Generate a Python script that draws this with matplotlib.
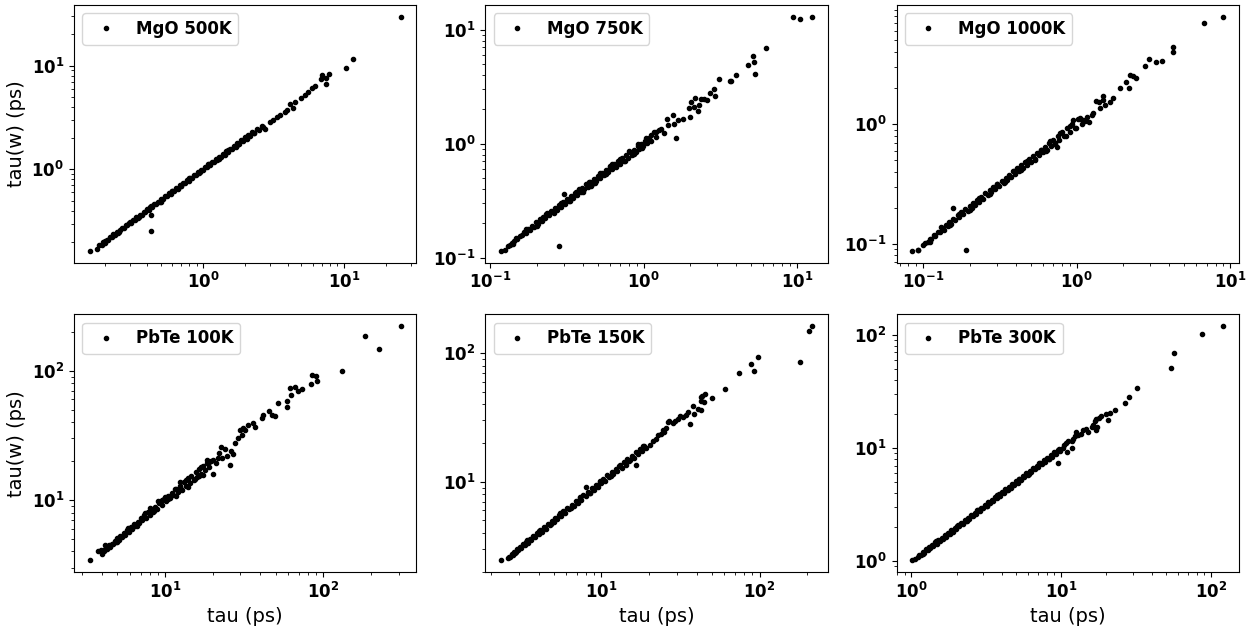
import matplotlib
matplotlib.use('Agg')
import matplotlib.pyplot as plt

# MgO 500K
mgo500_tau = [0.156, 0.176, 0.183, 0.19, 0.195, 0.2, 0.206, 0.212, 0.218, 0.224,
              0.23, 0.237, 0.244, 0.251, 0.258, 0.266, 0.274, 0.282, 0.29, 0.299,
              0.308, 0.317, 0.326, 0.336, 0.346, 0.356, 0.367, 0.378, 0.389, 0.4,
              0.412, 0.424, 0.426, 0.426, 0.437, 0.45, 0.463, 0.477, 0.491, 0.506,
              0.521, 0.537, 0.553, 0.57, 0.587, 0.604, 0.622, 0.641, 0.66, 0.68,
              0.7, 0.721, 0.743, 0.765, 0.788, 0.812, 0.836, 0.861, 0.887, 0.914,
              0.941, 0.969, 0.998, 1.03, 1.06, 1.09, 1.12, 1.16, 1.19, 1.23,
              1.26, 1.3, 1.34, 1.38, 1.42, 1.46, 1.5, 1.55, 1.6, 1.65,
              1.7, 1.75, 1.8, 1.86, 1.92, 1.98, 2.04, 2.1, 2.17, 2.24,
              2.31, 2.4, 2.5, 2.6, 2.68, 2.75, 2.99, 3.15, 3.35, 3.52,
              3.82, 3.95, 4.14, 4.37, 4.49, 4.93, 5.3, 5.58, 5.9, 6.2,
              6.87, 6.95, 7.45, 7.45, 7.87, 10.3, 11.6, 25.4,
              0.2, 0.25, 0.3, 0.35, 0.42, 0.5, 0.6, 0.7, 0.8, 0.95,
              1.1, 1.3, 1.5, 1.75, 2.0, 2.3]
mgo500_tauw = [0.164, 0.169, 0.186, 0.188, 0.199, 0.197, 0.21, 0.209, 0.224, 0.222,
               0.236, 0.233, 0.25, 0.247, 0.262, 0.27, 0.272, 0.29, 0.288, 0.306,
               0.305, 0.325, 0.324, 0.345, 0.343, 0.366, 0.362, 0.39, 0.385, 0.415,
               0.41, 0.44, 0.362, 0.256, 0.436, 0.466, 0.46, 0.49, 0.487, 0.523,
               0.517, 0.551, 0.548, 0.586, 0.58, 0.62, 0.616, 0.66, 0.652, 0.7,
               0.692, 0.74, 0.735, 0.785, 0.778, 0.832, 0.826, 0.88, 0.876, 0.935,
               0.93, 0.99, 0.986, 1.05, 1.045, 1.115, 1.105, 1.18, 1.17, 1.25,
               1.235, 1.33, 1.31, 1.41, 1.39, 1.49, 1.47, 1.58, 1.56, 1.68,
               1.66, 1.78, 1.75, 1.9, 1.87, 2.02, 1.98, 2.14, 2.1, 2.28,
               2.24, 2.43, 2.42, 2.62, 2.58, 2.45, 2.88, 2.99, 3.2, 3.34,
               3.59, 3.75, 4.24, 3.87, 4.49, 4.84, 5.2, 5.53, 6.04, 6.4,
               7.43, 8.1, 7.55, 6.69, 8.36, 9.55, 11.5, 29.6,
               0.206, 0.243, 0.31, 0.345, 0.435, 0.49, 0.62, 0.685, 0.825, 0.935,
               1.135, 1.27, 1.54, 1.72, 2.05, 2.25]

# MgO 750K
mgo750_tau = [0.117, 0.125, 0.13, 0.134, 0.138, 0.142, 0.146, 0.15, 0.155, 0.16,
              0.165, 0.17, 0.175, 0.18, 0.186, 0.192, 0.198, 0.204, 0.21, 0.216,
              0.222, 0.228, 0.235, 0.242, 0.249, 0.256, 0.264, 0.272, 0.28, 0.282,
              0.288, 0.297, 0.3, 0.306, 0.315, 0.324, 0.334, 0.344, 0.354, 0.365,
              0.376, 0.387, 0.398, 0.41, 0.422, 0.435, 0.448, 0.461, 0.475, 0.489,
              0.504, 0.519, 0.535, 0.551, 0.567, 0.584, 0.602, 0.62, 0.638, 0.657,
              0.677, 0.697, 0.718, 0.74, 0.762, 0.785, 0.808, 0.832, 0.857, 0.883,
              0.91, 0.937, 0.965, 0.994, 1.02, 1.05, 1.08, 1.11, 1.11, 1.16,
              1.2, 1.2, 1.25, 1.3, 1.35, 1.41, 1.43, 1.54, 1.58, 1.62,
              1.66, 1.79, 1.98, 2.0, 2.03, 2.13, 2.15, 2.24, 2.28, 2.36,
              2.48, 2.6, 2.71, 2.85, 2.89, 3.07, 3.66, 3.7, 3.98, 4.75,
              5.12, 5.25, 5.33, 6.25, 9.42, 10.5, 12.5,
              0.14, 0.17, 0.2, 0.23, 0.26, 0.29, 0.33, 0.36, 0.4, 0.44,
              0.48, 0.52, 0.57, 0.62, 0.66, 0.7, 0.75, 0.8, 0.86, 0.92,
              0.97, 1.03, 0.6, 0.45, 0.38]
mgo750_tauw = [0.115, 0.118, 0.127, 0.13, 0.136, 0.14, 0.148, 0.145, 0.156, 0.158,
               0.168, 0.166, 0.18, 0.175, 0.19, 0.186, 0.205, 0.198, 0.218, 0.21,
               0.23, 0.222, 0.245, 0.236, 0.258, 0.25, 0.275, 0.265, 0.292, 0.127,
               0.28, 0.31, 0.361, 0.298, 0.328, 0.316, 0.346, 0.334, 0.368, 0.355,
               0.39, 0.376, 0.412, 0.398, 0.44, 0.42, 0.465, 0.446, 0.49, 0.475,
               0.522, 0.5, 0.555, 0.53, 0.59, 0.562, 0.625, 0.6, 0.665, 0.632,
               0.7, 0.67, 0.745, 0.71, 0.79, 0.75, 0.84, 0.8, 0.89, 0.85,
               0.95, 0.9, 1.0, 0.955, 1.06, 1.01, 1.12, 1.19, 1.06, 1.27,
               1.27, 1.15, 1.32, 1.35, 1.25, 1.66, 1.45, 1.78, 1.5, 1.13,
               1.61, 1.66, 2.07, 1.72, 2.32, 2.1, 2.52, 1.93, 2.17, 2.45,
               2.49, 2.4, 2.81, 3.04, 2.62, 3.72, 3.55, 3.58, 3.98, 4.87,
               5.84, 5.2, 4.06, 6.9, 12.9, 12.4, 13.0,
               0.133, 0.177, 0.19, 0.243, 0.247, 0.305, 0.315, 0.38, 0.38, 0.465,
               0.455, 0.55, 0.54, 0.66, 0.62, 0.74, 0.71, 0.86, 0.82, 0.99,
               0.91, 1.12, 0.64, 0.43, 0.4]

# MgO 1000K
mgo1000_tau = [0.0845, 0.092, 0.093, 0.1, 0.103, 0.107, 0.11, 0.113, 0.117, 0.12,
               0.124, 0.128, 0.132, 0.136, 0.14, 0.144, 0.148, 0.152, 0.156, 0.157,
               0.162, 0.167, 0.172, 0.177, 0.182, 0.188, 0.19, 0.194, 0.2, 0.206,
               0.212, 0.218, 0.225, 0.232, 0.239, 0.246, 0.254, 0.262, 0.27, 0.278,
               0.286, 0.295, 0.304, 0.313, 0.323, 0.333, 0.343, 0.353, 0.364, 0.375,
               0.386, 0.398, 0.41, 0.422, 0.435, 0.448, 0.462, 0.476, 0.49, 0.505,
               0.52, 0.536, 0.552, 0.568, 0.585, 0.603, 0.62, 0.64, 0.66, 0.68,
               0.7, 0.72, 0.738, 0.75, 0.77, 0.8, 0.83, 0.86, 0.9, 0.93,
               0.95, 0.98, 1.01, 1.05, 1.08, 1.1, 1.16, 1.2, 1.28, 1.34,
               1.4, 1.41, 1.48, 1.48, 1.52, 1.64, 1.72, 1.9, 2.1, 2.18,
               2.21, 2.32, 2.44, 2.76, 2.93, 3.29, 3.58, 4.22, 4.22, 6.68,
               9.0,
               0.11, 0.13, 0.15, 0.17, 0.2, 0.23, 0.27, 0.3, 0.34, 0.39,
               0.43, 0.47, 0.53, 0.58, 0.63, 0.67, 0.72, 0.78, 0.85, 0.9,
               0.97, 1.05, 1.13, 1.25]
mgo1000_tauw = [0.087, 0.088, 0.089, 0.097, 0.101, 0.104, 0.109, 0.11, 0.117, 0.116,
                0.125, 0.124, 0.134, 0.131, 0.143, 0.14, 0.152, 0.147, 0.2, 0.162,
                0.157, 0.172, 0.166, 0.183, 0.176, 0.194, 0.089, 0.187, 0.206, 0.199,
                0.219, 0.211, 0.233, 0.224, 0.247, 0.238, 0.263, 0.253, 0.28, 0.268,
                0.297, 0.285, 0.316, 0.302, 0.335, 0.321, 0.356, 0.34, 0.378, 0.362,
                0.401, 0.383, 0.426, 0.406, 0.452, 0.432, 0.48, 0.458, 0.51, 0.486,
                0.54, 0.515, 0.574, 0.546, 0.61, 0.58, 0.645, 0.612, 0.7, 0.65,
                0.74, 0.69, 0.646, 0.8, 0.735, 0.85, 0.8, 0.92, 0.85, 1.0,
                1.08, 0.93, 1.1, 1.12, 1.0, 1.08, 1.15, 1.05, 1.23, 1.56,
                1.54, 1.35, 1.59, 1.72, 1.44, 1.54, 1.64, 1.99, 2.26, 1.99,
                2.57, 2.52, 2.41, 3.07, 3.5, 3.32, 3.39, 4.43, 4.03, 7.04,
                7.9,
                0.103, 0.137, 0.143, 0.178, 0.19, 0.241, 0.258, 0.315, 0.325, 0.405,
                0.415, 0.49, 0.505, 0.61, 0.6, 0.72, 0.68, 0.84, 0.8, 0.96,
                0.92, 1.1, 1.07, 1.2]

# PbTe 100K
pbte100_tau = [3.33, 3.79, 3.95, 4.0, 4.1, 4.2, 4.3, 4.4, 4.5, 4.6,
               4.7, 4.8, 4.9, 5.0, 5.1, 5.2, 5.35, 5.5, 5.6, 5.75,
               5.9, 6.05, 6.2, 6.35, 6.5, 6.7, 6.85, 7.0, 7.2, 7.4,
               7.6, 7.8, 8.0, 8.0, 8.2, 8.4, 8.7, 8.9, 9.2, 9.5,
               9.8, 10.1, 10.4, 10.7, 11.0, 11.3, 11.7, 12.0, 12.4, 12.7,
               13.1, 13.5, 13.9, 14.3, 14.7, 15.2, 15.6, 16.0, 16.5, 17.0,
               17.5, 18.0, 18.5, 19.0, 19.5, 20.2, 20.2, 21.0, 22.0, 23.0,
               24.0, 25.7, 26.0, 27.0, 27.7, 29.0, 29.8, 30.5, 31.2, 32.0,
               33.6, 36.1, 37.0, 40.8, 41.8, 45.6, 47.2, 49.5, 52.0, 58.7,
               59.3, 61.6, 63.0, 66.2, 69.5, 73.0, 83.6, 84.5, 90.0, 90.8,
               132.0, 184.0, 225.0, 310.0,
               9.0, 11.8, 12.5, 14.0, 17.5, 18.5, 22.5, 24.5,
               4.2, 5.0, 5.8, 6.6, 7.5, 8.5, 9.5, 10.5, 11.5, 12.8,
               14.0, 15.5, 17.0, 19.0, 21.5, 10.0, 13.5, 16.5]
pbte100_tauw = [3.42, 4.0, 4.1, 3.85, 4.0, 4.15, 4.2, 4.45, 4.35, 4.6,
                4.55, 4.85, 4.75, 5.05, 4.95, 5.3, 5.15, 5.6, 5.4, 5.85,
                5.7, 6.2, 6.0, 6.55, 6.3, 6.8, 6.6, 7.2, 6.95, 7.6,
                7.3, 8.1, 7.7, 8.7, 8.5, 8.1, 8.9, 8.5, 9.5, 9.2,
                10.1, 9.8, 10.8, 10.3, 11.4, 10.9, 12.1, 11.5, 12.9, 12.2,
                13.7, 12.8, 14.5, 13.6, 15.4, 14.4, 16.4, 15.1, 17.3, 16.0,
                18.2, 17.0, 19.2, 18.0, 20.0, 16.0, 20.3, 19.5, 23.0, 21.0,
                25.0, 18.8, 24.0, 22.5, 27.6, 30.2, 35.0, 32.0, 36.0, 35.0,
                38.2, 39.4, 37.0, 43.0, 45.6, 48.4, 45.6, 44.3, 56.1, 52.8,
                57.8, 74.0, 65.0, 75.3, 69.9, 72.3, 79.0, 92.7, 91.6, 83.8,
                99.5, 186.0, 147.0, 221.0,
                9.9, 10.8, 13.8, 12.6, 15.6, 20.5, 25.5, 22.0,
                4.45, 4.75, 6.1, 6.3, 7.9, 8.2, 10.0, 10.2, 12.2, 12.0,
                14.9, 14.6, 18.0, 19.8, 21.0, 10.6, 14.2, 15.4]

# PbTe 150K
pbte150_tau = [2.31, 2.55, 2.6, 2.65, 2.7, 2.75, 2.8, 2.86, 2.92, 2.98,
               3.05, 3.12, 3.2, 3.27, 3.35, 3.43, 3.52, 3.6, 3.7, 3.8,
               3.9, 4.0, 4.1, 4.2, 4.32, 4.44, 4.56, 4.7, 4.84, 4.98,
               5.12, 5.27, 5.42, 5.58, 5.75, 5.92, 6.1, 6.28, 6.47, 6.66,
               6.86, 7.06, 7.27, 7.48, 7.7, 7.93, 8.04, 8.17, 8.41, 8.66,
               8.92, 9.18, 9.45, 9.73, 10.0, 10.3, 10.6, 10.9, 11.2, 11.6,
               11.9, 12.3, 12.6, 13.0, 13.4, 13.8, 14.2, 14.6, 15.0, 15.5,
               16.0, 16.6, 16.5, 17.0, 17.5, 18.0, 18.6, 19.2, 20.2, 21.2,
               22.2, 22.8, 23.9, 24.7, 24.5, 25.7, 26.4, 26.7, 28.3, 29.0,
               30.5, 31.3, 32.8, 34.4, 35.3, 36.1, 38.5, 42.8, 40.8, 38.0,
               42.8, 44.3, 42.4, 43.5, 45.0, 50.0, 60.1, 74.0, 91.6, 87.7,
               97.5, 179.0, 205.0, 215.0,
               2.9, 3.4, 4.0, 4.8, 5.5, 6.4, 7.3, 8.5, 9.8, 11.5,
               13.2, 15.2, 18.3]
pbte150_tauw = [2.45, 2.55, 2.62, 2.6, 2.75, 2.7, 2.85, 2.8, 2.98, 2.92,
                3.12, 3.05, 3.26, 3.2, 3.42, 3.35, 3.6, 3.52, 3.78, 3.7,
                4.0, 3.9, 4.2, 4.1, 4.42, 4.32, 4.66, 4.58, 4.95, 4.85,
                5.24, 5.13, 5.55, 5.43, 5.9, 5.76, 6.25, 6.1, 6.62, 6.47,
                7.02, 6.86, 7.45, 7.25, 7.9, 7.7, 9.15, 8.36, 8.15, 8.87,
                8.6, 9.4, 9.1, 9.97, 9.7, 10.55, 10.2, 11.2, 10.8, 11.9,
                11.4, 12.6, 12.1, 13.35, 12.8, 14.2, 13.6, 15.0, 14.4, 15.9,
                15.3, 13.4, 17.0, 16.3, 17.9, 17.2, 19.1, 18.3, 19.4, 20.9,
                21.6, 23.2, 23.5, 24.4, 25.4, 26.2, 29.1, 29.8, 28.6, 29.8,
                30.9, 32.7, 32.1, 33.1, 34.7, 28.2, 33.7, 36.3, 36.9, 39.1,
                42.6, 42.0, 45.4, 46.5, 48.2, 44.7, 52.7, 69.7, 72.6, 82.2,
                92.7, 85.7, 148.0, 162.0,
                2.82, 3.5, 4.12, 4.65, 5.68, 6.2, 7.55, 8.2, 10.1, 11.1,
                13.6, 14.7, 18.9]

# PbTe 300K
pbte300_tau = [1.01, 1.06, 1.1, 1.13, 1.16, 1.19, 1.22, 1.25, 1.28, 1.31,
               1.34, 1.37, 1.4, 1.44, 1.47, 1.51, 1.55, 1.59, 1.63, 1.67,
               1.71, 1.75, 1.8, 1.84, 1.89, 1.94, 1.99, 2.04, 2.09, 2.15,
               2.2, 2.26, 2.32, 2.38, 2.44, 2.5, 2.57, 2.64, 2.71, 2.78,
               2.86, 2.93, 3.01, 3.09, 3.17, 3.26, 3.34, 3.43, 3.52, 3.62,
               3.71, 3.81, 3.91, 4.02, 4.13, 4.24, 4.35, 4.47, 4.59, 4.72,
               4.84, 4.97, 5.11, 5.25, 5.39, 5.53, 5.68, 5.84, 6.0, 6.16,
               6.32, 6.5, 6.67, 6.85, 7.04, 7.23, 7.42, 7.62, 7.83, 8.04,
               8.26, 8.5, 8.7, 8.95, 9.2, 9.52, 9.45, 9.77, 10.3, 10.5,
               10.8, 10.9, 11.1, 11.7, 11.7, 12.0, 12.3, 12.5, 12.9, 13.6,
               14.0, 14.7, 15.1, 15.9, 16.3, 16.7, 17.1, 17.1, 17.3, 17.9,
               18.5, 20.0, 20.5, 21.0, 22.7, 26.5, 28.1, 31.9, 54.1, 56.1,
               86.5, 120.6,
               1.2, 1.45, 1.7, 2.0, 2.35, 2.75, 3.2, 3.75, 4.4, 5.2,
               6.1, 7.1, 8.3, 9.6]
pbte300_tauw = [1.02, 1.05, 1.09, 1.14, 1.13, 1.21, 1.19, 1.27, 1.25, 1.33,
                1.3, 1.4, 1.36, 1.47, 1.43, 1.54, 1.5, 1.62, 1.58, 1.71,
                1.66, 1.79, 1.74, 1.88, 1.83, 1.98, 1.93, 2.08, 2.03, 2.19,
                2.14, 2.3, 2.25, 2.42, 2.37, 2.55, 2.5, 2.68, 2.63, 2.83,
                2.78, 2.98, 2.93, 3.15, 3.08, 3.32, 3.25, 3.5, 3.42, 3.69,
                3.61, 3.89, 3.8, 4.1, 4.0, 4.33, 4.22, 4.56, 4.46, 4.82,
                4.7, 5.07, 4.96, 5.36, 5.23, 5.65, 5.51, 5.96, 5.82, 6.29,
                6.14, 6.63, 6.48, 7.0, 6.83, 7.38, 7.2, 7.8, 7.6, 8.22,
                8.0, 8.7, 8.4, 9.15, 8.9, 7.31, 9.65, 9.38, 10.0, 10.6,
                11.1, 9.27, 11.6, 11.5, 10.0, 12.1, 12.7, 13.9, 13.1, 13.4,
                14.5, 14.8, 13.9, 15.2, 16.1, 17.5, 18.2, 14.3, 15.5, 18.4,
                19.0, 20.1, 17.7, 20.4, 21.8, 25.0, 28.4, 33.6, 51.3, 68.7,
                100.8, 119.3,
                1.16, 1.5, 1.65, 2.06, 2.28, 2.84, 3.1, 3.87, 4.27, 5.36,
                5.92, 7.32, 8.05, 9.9]

labels = ['MgO 500K', 'MgO 750K', 'MgO 1000K', 'PbTe 100K', 'PbTe 150K', 'PbTe 300K']
taus = [mgo500_tau, mgo750_tau, mgo1000_tau, pbte100_tau, pbte150_tau, pbte300_tau]
tauws = [mgo500_tauw, mgo750_tauw, mgo1000_tauw, pbte100_tauw, pbte150_tauw, pbte300_tauw]

plt.rcParams['font.size'] = 12
plt.rcParams['font.weight'] = 'bold'

fig, axes = plt.subplots(2, 3, figsize=(12.6, 6.28), dpi=100)
fig.subplots_adjust(left=0.0587, right=0.9833, top=0.992, bottom=0.0892,
                    wspace=0.201, hspace=0.2016)

for i, ax in enumerate(axes.flat):
    ax.plot(taus[i], tauws[i], 'k.', label=labels[i])
    ax.set_xscale('log')
    ax.set_yscale('log')
    ax.legend(loc='upper left')
    if i % 3 == 0:
        ax.set_ylabel('tau(w) (ps)', fontsize=14, fontweight='normal')
    if i >= 3:
        ax.set_xlabel('tau (ps)', fontsize=14, fontweight='normal')

fig.savefig('out.png')
